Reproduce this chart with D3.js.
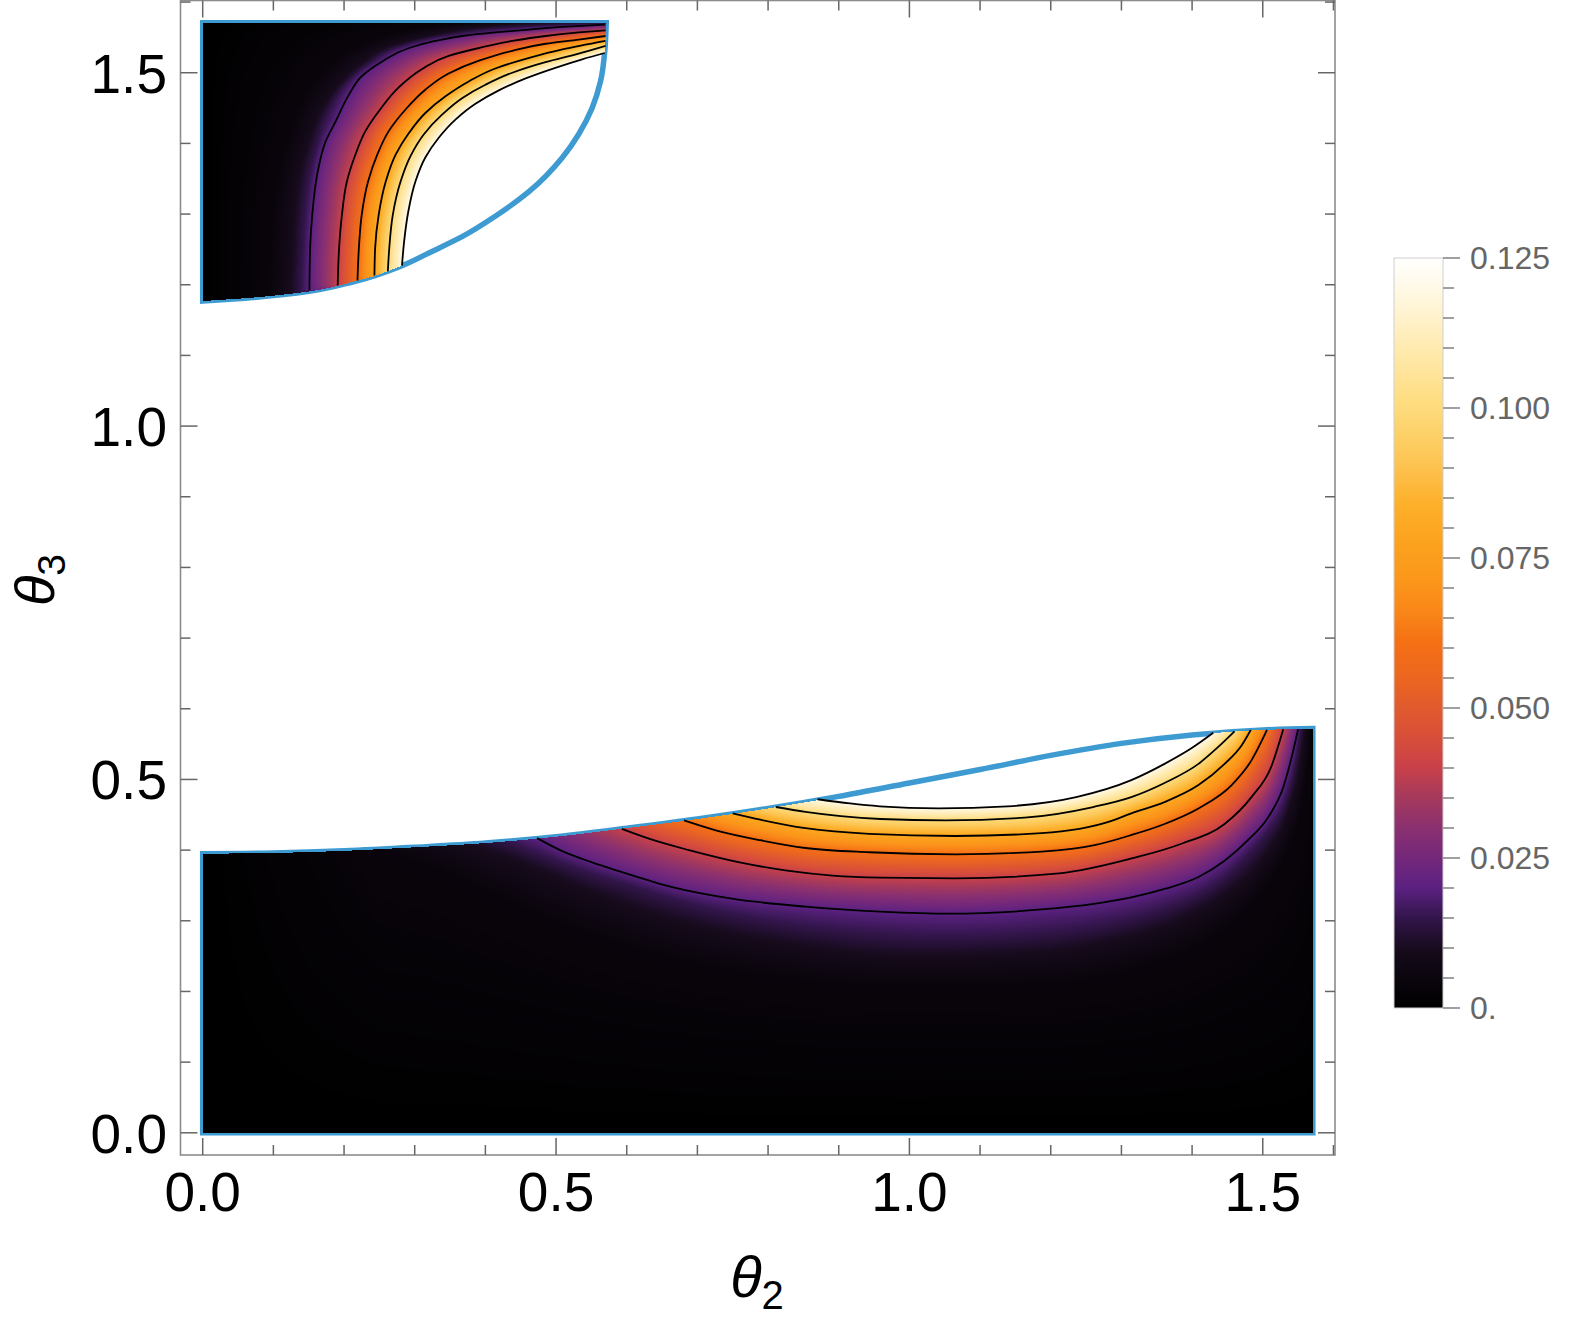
<!DOCTYPE html>
<html><head><meta charset="utf-8">
<script src="https://cdn.jsdelivr.net/npm/d3@7"></script>
<style>body{margin:0;background:#fff}svg{display:block}</style>
</head><body>
<svg id="chart" width="1578" height="1319"></svg>
<script>
const HALF_PI = Math.PI / 2;

// ---------- ticks & labels ----------
const majorTicks = [0, 0.5, 1.0, 1.5];
const majorTickLabels = ["0.0", "0.5", "1.0", "1.5"];
const minorTicks = [0.1, 0.2, 0.3, 0.4, 0.6, 0.7, 0.8, 0.9, 1.1, 1.2, 1.3, 1.4, 1.6];
const colorbarMajor = [0, 0.025, 0.05, 0.075, 0.1, 0.125];
const colorbarLabels = ["0.", "0.025", "0.050", "0.075", "0.100", "0.125"];
const colorbarMinor = [0.005,0.01,0.015,0.02,0.03,0.035,0.04,0.045,0.055,0.06,0.065,0.07,0.08,0.085,0.09,0.095,0.105,0.11,0.115,0.12];

// ---------- colour map (value -> colour) ----------
const colorStopValues = [0, 0.0094, 0.015, 0.020, 0.025, 0.030, 0.0356, 0.040, 0.045, 0.050, 0.055, 0.061, 0.0657, 0.0706, 0.0775, 0.084, 0.090, 0.097, 0.101, 0.110, 0.118, 0.125];
const colorStopColors = ["#000000","#150a1a","#32154a","#5b2182","#74287a","#8a3070","#a83a5a","#c8404a","#d84e3a","#e05a2e","#ec6620","#f57014","#f98518","#fb951a","#fca21e","#fdb02a","#fdc24e","#fdd46e","#fedd80","#ffeab0","#fff6dc","#ffffff"];

// ---------- contour levels ----------
const contourLevels = [0.02, 0.04, 0.06, 0.08, 0.10, 0.12];
const guideLevels = [0.004, 0.01, 0.015];   // undrawn iso-lines read from the shading

// ---------- lower region (theta2, theta3) ----------
const lowerBoundary = [[0,0.395],[0.1,0.396],[0.2,0.399],[0.3,0.404],[0.4,0.410],[0.5,0.419],[0.6,0.431],[0.7,0.444],[0.8,0.459],[0.9,0.476],[1.0,0.495],[1.1,0.514],[1.2,0.534],[1.3,0.551],[1.4,0.563],[1.5,0.570],[1.5708,0.572]];
const lowerC020 = [[0.473,0.417],[0.508,0.399],[0.550,0.383],[0.593,0.369],[0.663,0.348],[0.751,0.331],[0.853,0.320],[0.959,0.313],[1.056,0.310],[1.187,0.316],[1.261,0.324],[1.314,0.333],[1.361,0.345],[1.409,0.362],[1.446,0.385],[1.479,0.414],[1.508,0.447],[1.529,0.489],[1.541,0.532],[1.550,0.571]];
const lowerC040 = [[0.593,0.430],[0.638,0.414],[0.688,0.400],[0.758,0.383],[0.827,0.371],[0.891,0.364],[0.959,0.361],[1.065,0.360],[1.212,0.367],[1.318,0.389],[1.385,0.409],[1.446,0.437],[1.484,0.475],[1.512,0.518],[1.529,0.571]];
const lowerC060 = [[0.681,0.442],[0.726,0.428],[0.789,0.414],[0.853,0.403],[0.943,0.397],[1.065,0.394],[1.187,0.398],[1.262,0.407],[1.313,0.421],[1.361,0.437],[1.409,0.459],[1.456,0.492],[1.484,0.527],[1.506,0.570]];
const lowerC080 = [[0.750,0.452],[0.789,0.443],[0.853,0.431],[0.943,0.423],[1.065,0.420],[1.187,0.424],[1.285,0.441],[1.314,0.452],[1.361,0.468],[1.409,0.492],[1.446,0.522],[1.470,0.548],[1.483,0.570]];
const lowerC100 = [[0.811,0.461],[0.853,0.454],[0.903,0.448],[0.959,0.444],[1.051,0.442],[1.163,0.446],[1.260,0.461],[1.314,0.475],[1.361,0.495],[1.409,0.522],[1.437,0.546],[1.460,0.568]];
const lowerC120 = [[0.870,0.472],[0.916,0.466],[0.958,0.462],[1.041,0.459],[1.139,0.462],[1.236,0.475],[1.314,0.499],[1.361,0.522],[1.399,0.544],[1.430,0.566]];
const lowerG004 = [[0.25,0.401],[0.33,0.374],[0.42,0.333],[0.52,0.290],[0.65,0.250],[0.80,0.222],[1.0,0.207],[1.2,0.212],[1.33,0.235],[1.43,0.278],[1.49,0.33],[1.53,0.39],[1.555,0.46],[1.565,0.53],[1.568,0.572]];
const lowerG010 = [[0.38,0.409],[0.45,0.384],[0.55,0.343],[0.65,0.308],[0.75,0.283],[0.85,0.266],[1.0,0.252],[1.15,0.255],[1.28,0.272],[1.38,0.302],[1.45,0.342],[1.50,0.39],[1.535,0.455],[1.552,0.52],[1.559,0.572]];
const lowerG015 = [[0.43,0.413],[0.48,0.393],[0.55,0.367],[0.60,0.352],[0.663,0.332],[0.751,0.310],[0.853,0.293],[0.959,0.282],[1.056,0.278],[1.187,0.284],[1.261,0.293],[1.314,0.304],[1.361,0.318],[1.409,0.338],[1.446,0.362],[1.479,0.394],[1.508,0.428],[1.530,0.465],[1.545,0.52],[1.553,0.571]];
const lowerCornerValues = [0, 0];   // at theta2 = 0 and theta2 = pi/2 on the curved edge

// ---------- upper region ----------
const upperBoundary = [[0,1.177],[0.06,1.181],[0.131,1.188],[0.216,1.205],[0.282,1.227],[0.320,1.245],[0.367,1.268],[0.414,1.297],[0.462,1.332],[0.509,1.380],[0.532,1.413],[0.551,1.450],[0.563,1.488],[0.569,1.531],[0.571,1.5708]];
const upperC020 = [[0.151,1.192],[0.152,1.252],[0.155,1.299],[0.162,1.356],[0.174,1.403],[0.188,1.431],[0.207,1.469],[0.225,1.495],[0.254,1.516],[0.292,1.535],[0.329,1.545],[0.367,1.552],[0.414,1.557],[0.462,1.561],[0.509,1.565],[0.569,1.568]];
const upperC040 = [[0.191,1.199],[0.193,1.252],[0.197,1.299],[0.204,1.346],[0.216,1.384],[0.230,1.417],[0.251,1.448],[0.277,1.479],[0.310,1.505],[0.348,1.524],[0.391,1.535],[0.438,1.545],[0.485,1.552],[0.532,1.557],[0.570,1.560]];
const upperC060 = [[0.219,1.206],[0.221,1.252],[0.225,1.299],[0.234,1.346],[0.247,1.384],[0.263,1.417],[0.287,1.448],[0.315,1.476],[0.348,1.499],[0.391,1.517],[0.438,1.531],[0.485,1.541],[0.532,1.547],[0.570,1.552]];
const upperC080 = [[0.243,1.213],[0.244,1.252],[0.249,1.299],[0.259,1.346],[0.273,1.384],[0.292,1.415],[0.315,1.443],[0.344,1.467],[0.377,1.488],[0.414,1.506],[0.462,1.521],[0.509,1.533],[0.570,1.545]];
const upperC100 = [[0.262,1.219],[0.264,1.252],[0.269,1.299],[0.280,1.346],[0.294,1.382],[0.313,1.413],[0.339,1.441],[0.367,1.464],[0.400,1.483],[0.438,1.500],[0.485,1.515],[0.532,1.527],[0.570,1.538]];
const upperC120 = [[0.282,1.227],[0.285,1.261],[0.291,1.304],[0.301,1.346],[0.315,1.380],[0.334,1.408],[0.358,1.434],[0.386,1.456],[0.419,1.475],[0.457,1.492],[0.499,1.507],[0.537,1.519],[0.569,1.528]];
const upperG004 = [[0.093,1.184],[0.096,1.25],[0.099,1.30],[0.106,1.35],[0.118,1.40],[0.135,1.45],[0.158,1.49],[0.19,1.52],[0.225,1.54],[0.28,1.558],[0.34,1.567],[0.38,1.5708]];
const upperG010 = [[0.125,1.187],[0.128,1.25],[0.131,1.30],[0.137,1.35],[0.150,1.40],[0.170,1.45],[0.195,1.485],[0.225,1.513],[0.265,1.537],[0.325,1.553],[0.40,1.565],[0.47,1.5708]];
const upperG015 = [[0.139,1.190],[0.142,1.25],[0.145,1.30],[0.151,1.35],[0.163,1.40],[0.182,1.45],[0.206,1.487],[0.238,1.514],[0.278,1.536],[0.34,1.5515],[0.42,1.562],[0.50,1.567],[0.570,1.5695]];
const upperCornerValues = [0, 0.012]; // bottom-left end and top-right end of the curved edge

const lowerContours = [lowerC020, lowerC040, lowerC060, lowerC080, lowerC100, lowerC120];
const upperContours = [upperC020, upperC040, upperC060, upperC080, upperC100, upperC120];
const lowerGuides = [lowerG004, lowerG010, lowerG015];
const upperGuides = [upperG004, upperG010, upperG015];

// ---------- scales ----------
const svg = d3.select('#chart');
const W = 1578, H = 1319;
const xS = d3.scaleLinear().domain([-0.02 * HALF_PI, 1.02 * HALF_PI]).range([180.5, 1335]);
const yS = d3.scaleLinear().domain([-0.02 * HALF_PI, 1.02 * HALF_PI]).range([1155, 0.5]);
const colorScale = d3.scaleLinear().domain(colorStopValues).range(colorStopColors).clamp(true);
const BLUE = "#3d9bd2";

const lineX = d3.line().x(d => xS(d[0])).y(d => yS(d[1])).curve(d3.curveMonotoneX);
const lineY = d3.line().x(d => xS(d[0])).y(d => yS(d[1])).curve(d3.curveMonotoneY);
const pathLower = pts => lineX(pts);
const pathUpper = pts => lineY(pts.slice().reverse());

const tmp = svg.append('g').attr('opacity', 0);
function sampler(dstr, axis) {
  const p = tmp.append('path').attr('d', dstr).node();
  const L = p.getTotalLength();
  const n = Math.max(2, Math.ceil(L / 0.4));
  const pts = [];
  for (let i = 0; i <= n; i++) { const q = p.getPointAtLength(L * i / n); pts.push([q.x, q.y]); }
  const k = axis === 'x' ? 0 : 1, o = 1 - k;
  pts.sort((a, b) => a[k] - b[k]);
  const keys = pts.map(d => d[k]);
  const lo = keys[0], hi = keys[keys.length - 1];
  return {lo, hi, at(t) {
    if (t < lo || t > hi) return NaN;
    let i = d3.bisectLeft(keys, t);
    if (i <= 0) return pts[0][o];
    if (i >= pts.length) return pts[pts.length - 1][o];
    const a = pts[i - 1], b = pts[i], d = b[k] - a[k];
    return d < 1e-9 ? b[o] : a[o] + (b[o] - a[o]) * (t - a[k]) / d;
  }};
}
function interp(knots, t) {
  if (t <= knots[0][0]) return knots[0][1];
  for (let i = 1; i < knots.length; i++) {
    if (t <= knots[i][0]) {
      const a = knots[i - 1], b = knots[i], d = b[0] - a[0];
      return d < 1e-9 ? b[1] : a[1] + (b[1] - a[1]) * (t - a[0]) / d;
    }
  }
  return knots[knots.length - 1][1];
}

// ---------- density raster ----------
const canvas = document.createElement('canvas'); canvas.width = W; canvas.height = H;
const cctx = canvas.getContext('2d');
const img = cctx.createImageData(W, H); const pix = img.data;
const lut = d3.range(1001).map(i => d3.rgb(colorScale(i / 1000 * 0.125)));
function put(px, py, v) {
  if (v >= 0.12 || px < 0 || py < 0 || px >= W || py >= H) return;
  const c = lut[Math.max(0, Math.min(1000, Math.round(v / 0.125 * 1000)))];
  const k = (py * W + px) * 4;
  pix[k] = c.r; pix[k + 1] = c.g; pix[k + 2] = c.b; pix[k + 3] = 255;
}

// lower region: scan columns
{
  const lb = sampler(pathLower(lowerBoundary), 'x');
  const lines = lowerContours.map((pts, i) => ({level: contourLevels[i], pts}))
    .concat(lowerGuides.map((pts, i) => ({level: guideLevels[i], pts})));
  lines.forEach(l => l.s = sampler(pathLower(l.pts), 'x'));
  const edge = [[xS(0), lowerCornerValues[0]], [xS(HALF_PI), lowerCornerValues[1]]];
  lines.forEach(l => [l.pts[0], l.pts[l.pts.length - 1]].forEach(p => edge.push([xS(p[0]), l.level])));
  edge.sort((a, b) => a[0] - b[0]);
  const x0 = xS(0), x1 = xS(HALF_PI), yZero = yS(0);
  for (let px = Math.floor(x0); px <= Math.ceil(x1); px++) {
    const cx = px + 0.5;
    if (cx < x0 || cx > x1) continue;
    let yB = lb.at(Math.min(Math.max(cx, lb.lo), lb.hi));
    const knots = [[-yZero, 0]];
    lines.forEach(l => { const y = l.s.at(cx); if (!isNaN(y) && y >= yB) knots.push([-y, l.level]); });
    knots.push([-yB, interp(edge, cx)]);
    knots.sort((a, b) => a[0] - b[0]);
    for (let py = Math.floor(yB); py <= Math.ceil(yZero); py++) {
      const cy = py + 0.5;
      if (cy < yB || cy > yZero) continue;
      put(px, py, interp(knots, -cy));
    }
  }
}
// upper region: scan rows
{
  const ub = sampler(pathUpper(upperBoundary), 'y');
  const lines = upperContours.map((pts, i) => ({level: contourLevels[i], pts}))
    .concat(upperGuides.map((pts, i) => ({level: guideLevels[i], pts})));
  lines.forEach(l => l.s = sampler(pathUpper(l.pts), 'y'));
  const xMaxData = y => xS.invert(ub.at(Math.min(Math.max(yS(y), ub.lo), ub.hi)));
  const edge = [[yS(upperBoundary[0][1]), upperCornerValues[0]], [yS(HALF_PI), upperCornerValues[1]]];
  lines.forEach(l => [l.pts[0], l.pts[l.pts.length - 1]].forEach(p => {
    if (Math.abs(p[0] - xMaxData(p[1])) < 0.008) edge.push([yS(p[1]), l.level]);
  }));
  edge.sort((a, b) => a[0] - b[0]);
  const yTop = yS(HALF_PI), yBot = yS(upperBoundary[0][1]), x0 = xS(0);
  for (let py = Math.floor(yTop); py <= Math.ceil(yBot); py++) {
    const cy = py + 0.5;
    if (cy < yTop || cy > yBot) continue;
    const xm = ub.at(cy);
    if (isNaN(xm)) continue;
    const knots = [[x0, 0]];
    lines.forEach(l => { const x = l.s.at(cy); if (!isNaN(x) && x <= xm) knots.push([x, l.level]); });
    knots.push([xm, interp(edge, cy)]);
    knots.sort((a, b) => a[0] - b[0]);
    for (let px = Math.floor(x0); px <= Math.ceil(xm); px++) {
      const cx = px + 0.5;
      if (cx < x0 || cx > xm) continue;
      put(px, py, interp(knots, cx));
    }
  }
}
cctx.putImageData(img, 0, 0);
tmp.remove();

// ---------- draw ----------
const lowerOutline = pathLower(lowerBoundary) + `L${xS(HALF_PI)},${yS(0)}L${xS(0)},${yS(0)}Z`;
const upperOutline = `M${xS(0)},${yS(HALF_PI)}L` + pathUpper(upperBoundary).substring(1) + 'Z';
svg.append('g').selectAll('path').data([lowerOutline, upperOutline]).join('path')
  .attr('d', d => d).attr('fill', 'none').attr('stroke', BLUE).attr('stroke-width', 5.5).attr('stroke-linejoin', 'miter');

svg.append('image').attr('x', 0).attr('y', 0).attr('width', W).attr('height', H)
  .attr('href', canvas.toDataURL());

const cg = svg.append('g').attr('fill', 'none').attr('stroke', '#000').attr('stroke-width', 1.8).attr('stroke-linejoin', 'round');
cg.selectAll('path.lc').data(lowerContours).join('path').attr('class', 'lc').attr('d', pathLower);
cg.selectAll('path.uc').data(upperContours).join('path').attr('class', 'uc').attr('d', pathUpper);

// frame
const fx0 = xS.range()[0], fx1 = xS.range()[1], fy0 = yS.range()[1], fy1 = yS.range()[0];
svg.append('rect').attr('x', fx0).attr('y', fy0).attr('width', fx1 - fx0).attr('height', fy1 - fy0)
  .attr('fill', 'none').attr('stroke', '#8c8c8c').attr('stroke-width', 1.6);
const tg = svg.append('g').attr('stroke', '#666').attr('stroke-width', 1.5);
const allTicks = majorTicks.map(v => ({v, len: 17})).concat(minorTicks.map(v => ({v, len: 10})));
allTicks.forEach(t => {
  const x = xS(t.v), y = yS(t.v);
  tg.append('line').attr('x1', x).attr('x2', x).attr('y1', fy1).attr('y2', fy1 - t.len);
  tg.append('line').attr('x1', x).attr('x2', x).attr('y1', fy0).attr('y2', fy0 + t.len);
  tg.append('line').attr('y1', y).attr('y2', y).attr('x1', fx0).attr('x2', fx0 + t.len);
  tg.append('line').attr('y1', y).attr('y2', y).attr('x1', fx1).attr('x2', fx1 - t.len);
});
const FONT = "'Liberation Sans', Arial, Helvetica, sans-serif";
svg.append('g').selectAll('text').data(majorTicks).join('text')
  .attr('x', d => xS(d)).attr('y', 1211).attr('text-anchor', 'middle')
  .attr('font-family', FONT).attr('font-size', 55).attr('fill', '#000')
  .text((d, i) => majorTickLabels[i]);
svg.append('g').selectAll('text').data(majorTicks).join('text')
  .attr('x', 167).attr('y', d => yS(d) + 20).attr('text-anchor', 'end')
  .attr('font-family', FONT).attr('font-size', 55).attr('fill', '#000')
  .text((d, i) => majorTickLabels[i]);

// axis labels
const xl = svg.append('text').attr('x', 757).attr('y', 1297).attr('text-anchor', 'middle')
  .attr('font-family', FONT).attr('fill', '#000');
xl.append('tspan').attr('font-style', 'italic').attr('font-size', 58).text('θ');
xl.append('tspan').attr('font-size', 40).attr('dy', 12).text('2');
const yl = svg.append('text').attr('transform', 'translate(54,580) rotate(-90)').attr('text-anchor', 'middle')
  .attr('font-family', FONT).attr('fill', '#000');
yl.append('tspan').attr('font-style', 'italic').attr('font-size', 56).text('θ');
yl.append('tspan').attr('font-size', 39).attr('dy', 11).text('3');

// ---------- colour bar ----------
const cbS = d3.scaleLinear().domain([0, 0.125]).range([1008, 258]);
const grad = svg.append('defs').append('linearGradient').attr('id', 'cbgrad')
  .attr('x1', 0).attr('y1', 1).attr('x2', 0).attr('y2', 0);
grad.selectAll('stop').data(colorStopValues).join('stop')
  .attr('offset', d => d / 0.125).attr('stop-color', (d, i) => colorStopColors[i]);
const cbx0 = 1394, cbx1 = 1443;
svg.append('rect').attr('x', cbx0).attr('y', cbS(0.125)).attr('width', cbx1 - cbx0).attr('height', cbS(0) - cbS(0.125))
  .attr('fill', 'url(#cbgrad)').attr('stroke', '#cfcfcf').attr('stroke-width', 1);
const cbt = svg.append('g').attr('stroke', '#888').attr('stroke-width', 1.6);
colorbarMajor.forEach(v => cbt.append('line').attr('x1', cbx1).attr('x2', cbx1 + 17).attr('y1', cbS(v)).attr('y2', cbS(v)));
colorbarMinor.forEach(v => cbt.append('line').attr('x1', cbx1).attr('x2', cbx1 + 11).attr('y1', cbS(v)).attr('y2', cbS(v)));
svg.append('g').selectAll('text').data(colorbarMajor).join('text')
  .attr('x', 1470).attr('y', d => cbS(d) + 11).attr('font-family', FONT).attr('font-size', 32).attr('fill', '#666')
  .text((d, i) => colorbarLabels[i]);
</script>
</body></html>
